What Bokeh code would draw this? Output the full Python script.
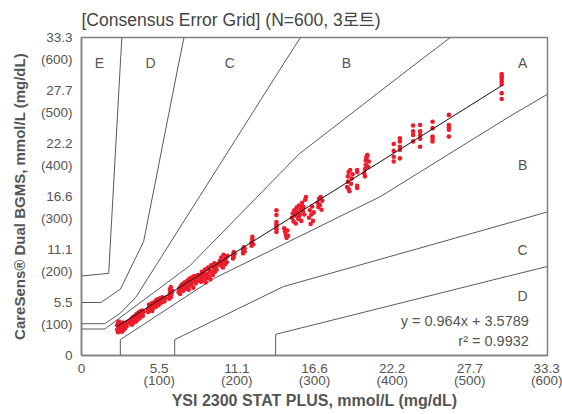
from bokeh.plotting import figure
from bokeh.models import FixedTicker, Range1d
from bokeh.embed import file_html
from bokeh.resources import INLINE
from bokeh.core.properties import value

FONT = "Liberation Sans"
TFONT = "Liberation Sans, Noto Sans CJK KR"
GRAY = "#555555"

# ---------------- data (mg/dL) ----------------
title_text = "[Consensus Error Grid] (N=600, 3로트)"
x_title = "YSI 2300 STAT PLUS, mmol/L (mg/dL)"
y_title = "CareSens® Dual BGMS, mmol/L (mg/dL)"

tick_vals = [0, 100, 200, 300, 400, 500, 600]
x_tick_labels = ["0", "5.5\n(100)", "11.1\n(200)", "16.6\n(300)", "22.2\n(400)", "27.7\n(500)", "33.3\n(600)"]
y_tick_labels = ["0", " \n5.5\n(100)", " \n11.1\n(200)", " \n16.6\n(300)", " \n22.2\n(400)", " \n27.7\n(500)", " \n33.3\n(600)"]

# consensus (Parkes type 1) error grid boundaries
ab_up_x = [0, 30, 140, 280, 430, 475]
ab_up_y = [50, 50, 170, 380, 550, 600]
ab_low_x = [50, 50, 170, 385, 550, 600]
ab_low_y = [0, 30, 145, 300, 450, 493]
bc_up_x = [0, 30, 50, 70, 260, 282]
bc_up_y = [60, 60, 80, 110, 550, 600]
bc_low_x = [120, 120, 260, 550, 600]
bc_low_y = [0, 30, 130, 250, 271]
cd_up_x = [0, 25, 50, 80, 125, 132]
cd_up_y = [100, 100, 125, 215, 550, 600]
cd_low_x = [250, 250, 550, 600]
cd_low_y = [0, 40, 150, 168]
de_up_x = [0, 35, 50, 52]
de_up_y = [150, 155, 550, 600]

zone_text = ["E", "D", "C", "B", "A", "B", "C", "D"]
zone_x = [23, 89, 191, 341, 568, 568, 568, 568]
zone_y = [551, 551, 551, 551, 551, 360, 200, 113]

eq_text = ["y = 0.964x + 3.5789", "r² = 0.9932"]
eq_x = [576, 576]
eq_y = [65, 28]

fit_x = [46, 541]
fit_y = [55, 509]

# measured points, cluster by cluster
c1_x = [46, 46, 47, 47, 48, 48, 49, 50, 50, 51, 52, 52, 53, 54, 54, 55, 56, 57, 58, 59]
c1_y = [49, 57, 44, 61, 52, 64, 47, 55, 60, 50, 45, 58, 62, 53, 48, 57, 51, 60, 55, 63]
c2_x = [63, 63, 64, 65, 65, 66, 67, 67, 68, 69, 70, 70, 71, 72, 72, 73, 74, 75, 75, 76, 77, 78, 79, 80]
c2_y = [60, 67, 63, 70, 58, 66, 62, 73, 68, 75, 64, 71, 78, 67, 74, 80, 70, 76, 83, 72, 79, 85, 75, 82]
c3_x = [85, 86, 87, 87, 88, 89, 90, 91, 91, 92, 93, 94, 95, 96, 96, 97, 98, 99, 100, 101, 102, 103, 104, 105, 106, 107, 108]
c3_y = [86, 82, 90, 96, 85, 93, 88, 99, 84, 94, 90, 101, 96, 92, 104, 98, 106, 95, 102, 108, 99, 105, 110, 101, 107, 103, 109]
c4_x = [113, 113, 114, 114, 115, 115, 116, 117]
c4_y = [107, 113, 119, 125, 110, 129, 116, 122]
c5_x = [125, 126, 127, 128, 129, 130, 131, 132, 133, 134, 135, 136, 137, 138, 139, 140, 141, 142, 143, 144, 145, 146, 147, 148, 149, 150]
c5_y = [120, 127, 116, 131, 124, 135, 122, 129, 138, 126, 133, 141, 130, 124, 145, 137, 132, 147, 139, 128, 150, 143, 136, 148, 140, 152]
c6_x = [152, 153, 154, 155, 155, 156, 157, 158, 159, 160, 161, 162, 163, 164, 165, 166, 167, 168, 169, 170, 171, 172, 173, 174, 175]
c6_y = [145, 152, 139, 148, 158, 143, 155, 150, 162, 138, 146, 154, 166, 150, 160, 144, 170, 157, 152, 165, 174, 158, 168, 162, 172]
c7_x = [178, 179, 180, 181, 182, 183, 184, 185, 186, 187, 188]
c7_y = [178, 170, 185, 174, 166, 190, 180, 172, 184, 176, 188]
c8_x = [195, 195, 196, 196, 197, 208, 208, 209, 210, 210, 219, 219, 220, 220, 221]
c8_y = [183, 189, 186, 195, 192, 193, 199, 204, 196, 202, 207, 213, 219, 224, 210]
c9_x = [251, 251, 251, 251, 251, 251, 251, 261, 262, 263, 264, 265, 266]
c9_y = [274, 265, 252, 247, 243, 238, 233, 240, 234, 228, 222, 236, 226]
c10_x = [271, 272, 273, 274, 275, 276, 277, 278, 279, 280, 281, 282, 283, 284, 285, 286, 287, 288, 289, 276, 280, 284]
c10_y = [260, 268, 253, 274, 264, 249, 279, 270, 258, 283, 266, 276, 254, 288, 272, 280, 266, 294, 299, 270, 262, 282]
c11_x = [293, 294, 295, 296, 297, 298, 299, 304, 305, 306, 307, 308, 309, 310]
c11_y = [260, 274, 248, 266, 281, 254, 270, 288, 280, 296, 284, 299, 275, 292]
c12_x = [342, 343, 343, 344, 345, 346, 347, 348, 349, 344, 355, 355, 355, 355]
c12_y = [318, 328, 338, 346, 310, 350, 324, 334, 342, 314, 350, 346, 320, 316]
c13_x = [364, 365, 366, 366, 367, 368, 369, 370, 365, 367]
c13_y = [344, 352, 360, 368, 372, 378, 356, 366, 338, 375]
c14_x = [402, 402, 402, 402, 410, 410, 410, 410, 410, 427, 427, 427, 427, 436, 436, 436, 436, 436]
c14_y = [399, 386, 375, 366, 410, 404, 394, 388, 372, 434, 423, 416, 404, 435, 423, 416, 409, 394]
c15_x = [452, 452, 452, 452, 452, 473, 473, 473, 473, 473, 541, 541, 541, 541, 541, 541, 541]
c15_y = [441, 429, 413, 409, 404, 454, 435, 430, 426, 413, 531, 527, 522, 517, 512, 495, 484]

ysi_mgdl = (c1_x + c2_x + c3_x + c4_x + c5_x + c6_x + c7_x + c8_x + c9_x + c10_x
            + c11_x + c12_x + c13_x + c14_x + c15_x)
bgms_mgdl = (c1_y + c2_y + c3_y + c4_y + c5_y + c6_y + c7_y + c8_y + c9_y + c10_y
             + c11_y + c12_y + c13_y + c14_y + c15_y)

# ---------------- figure ----------------
p = figure(frame_width=466, frame_height=318,
           x_range=Range1d(0, 600), y_range=Range1d(0, 600),
           output_backend="svg", toolbar_location=None,
           min_border_left=81, min_border_right=15, min_border_top=36, min_border_bottom=60,
           background_fill_color="white", border_fill_color="white")

p.title.text = title_text
p.title.text_font = TFONT
p.title.text_font_size = "17.5px"
p.title.text_font_style = "normal"
p.title.text_color = "#444444"
p.title.standoff = 15

p.grid.visible = False
p.outline_line_color = "#808080"
p.outline_line_width = 1.5

for ax in (p.xaxis[0], p.yaxis[0]):
    ax.ticker = FixedTicker(ticks=tick_vals)
    ax.major_tick_line_color = None
    ax.minor_tick_line_color = None
    ax.major_tick_out = 0
    ax.major_tick_in = 0
    ax.axis_line_color = "#808080"
    ax.axis_line_width = 1.5
    ax.major_label_text_font = FONT
    ax.major_label_text_font_size = "13.5px"
    ax.major_label_text_color = GRAY
    ax.axis_label_text_font = FONT
    ax.axis_label_text_font_style = "bold"
    ax.axis_label_text_color = GRAY

p.xaxis.axis_label_text_font_size = "16px"
p.yaxis.axis_label_text_font_size = "15px"
p.xaxis.major_label_overrides = dict(zip(tick_vals, x_tick_labels))
p.yaxis.major_label_overrides = dict(zip(tick_vals, y_tick_labels))
p.xaxis.major_label_text_align = "right"
p.xaxis.major_label_text_line_height = 0.85
p.yaxis.major_label_text_line_height = 1.45
p.xaxis.major_label_standoff = 5
p.yaxis.major_label_standoff = 9
p.xaxis.axis_label = x_title
p.yaxis.axis_label = y_title
p.xaxis.axis_label_standoff = 1
p.yaxis.axis_label_standoff = 10

line_kw = dict(line_color="#5a5a5a", line_width=1)
for bx, by in [(ab_up_x, ab_up_y), (ab_low_x, ab_low_y), (bc_up_x, bc_up_y),
               (bc_low_x, bc_low_y), (cd_up_x, cd_up_y), (cd_low_x, cd_low_y),
               (de_up_x, de_up_y)]:
    p.line(bx, by, **line_kw)

p.text(x=zone_x, y=zone_y, text=zone_text, text_align="center", text_baseline="middle",
       text_font=value(FONT), text_font_size="14px", text_color=GRAY)

p.scatter(ysi_mgdl, bgms_mgdl, size=4.6, fill_color="#ec1c2b", line_color=None)
p.line(fit_x, fit_y, line_color="#111111", line_width=1)

p.text(x=eq_x, y=eq_y, text=eq_text, text_align="right", text_baseline="middle",
       text_font=value(FONT), text_font_size="14.5px", text_color=GRAY)

open("out.html", "w").write(file_html(p, INLINE))
